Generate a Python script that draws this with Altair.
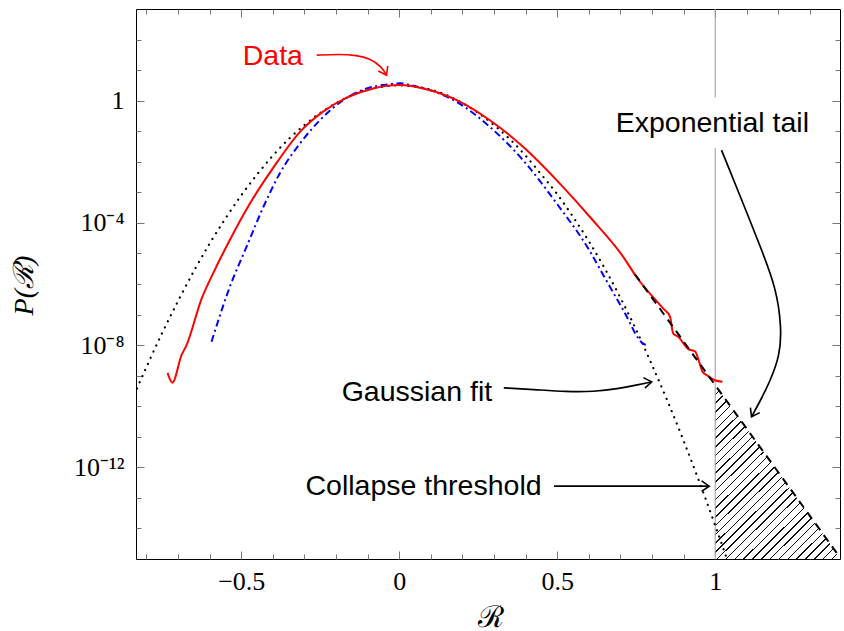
import numpy as np
import pandas as pd
import altair as alt

# ---------------- data ----------------
# measured distribution ("Data", red solid); values are log10 P
red_x = [-0.733, -0.718, -0.689, -0.673, -0.625, -0.589, -0.536, -0.472, -0.399, -0.314,
         -0.241, -0.166, -0.082, 0.002, 0.076, 0.182, 0.287, 0.392, 0.498, 0.603,
         0.709, 0.751, 0.835, 0.857, 0.867, 0.883, 0.915, 0.936, 0.946, 0.960,
         0.973, 0.999, 1.023]
red_logp = [-8.91, -9.23, -8.33, -8.00, -6.47, -5.65, -4.56, -3.36, -2.20, -1.02,
            -0.36, 0.10, 0.40, 0.51, 0.40, 0.02, -0.64, -1.51, -2.60, -3.80,
            -5.11, -5.77, -6.80, -7.07, -7.62, -7.73, -8.13, -8.20, -8.44, -8.87,
            -8.98, -9.15, -9.20]

# blue dash-dotted curve
blue_x = [-0.594, -0.536, -0.483, -0.430, -0.378, -0.314, -0.251, -0.177, -0.103, -0.029,
          0.002, 0.034, 0.182, 0.287, 0.392, 0.498, 0.603, 0.646, 0.709, 0.772, 0.783]
blue_logp = [-7.89, -6.09, -4.78, -3.48, -2.38, -1.40, -0.64, 0.02, 0.40, 0.54,
             0.57, 0.51, -0.04, -0.86, -1.95, -3.36, -4.92, -5.71, -6.85, -7.95, -8.00]

# Gaussian fit (black dotted)
gauss_x = [-0.83, -0.80, -0.75, -0.70, -0.65, -0.60, -0.55, -0.50, -0.45, -0.40,
           -0.35, -0.30, -0.25, -0.20, -0.15, -0.10, -0.05, 0.00, 0.05, 0.10,
           0.15, 0.20, 0.25, 0.30, 0.35, 0.40, 0.45, 0.50, 0.55, 0.60,
           0.65, 0.70, 0.75, 0.80, 0.85, 0.90, 0.95, 1.00, 1.035]
gauss_logp = [-9.42, -8.72, -7.60, -6.56, -5.58, -4.68, -3.86, -3.10, -2.42, -1.80,
              -1.26, -0.80, -0.40, -0.08, 0.18, 0.36, 0.46, 0.50, 0.46, 0.36,
              0.18, -0.08, -0.40, -0.80, -1.26, -1.80, -2.42, -3.06, -3.80, -4.60,
              -5.48, -6.45, -7.50, -8.65, -9.85, -11.13, -12.48, -13.90, -14.93]

# exponential tail (black dashed) and hatched region beyond the threshold
tail_x = [0.746, 1.0, 1.395]
tail_logp = [-5.68, -9.31, -14.95]
hatch_x = [1.0, 1.395]
hatch_logp = [-9.31, -14.95]
floor_logp = -15.0

# collapse threshold (grey vertical line), interrupted behind the label
thr_x = [1.0, 1.0]
thr_top_logp = [3.0, -1.55]
thr_bot_logp = [0.11, -15.0]

# annotations
ann_label = ["Data", "Exponential tail", "Gaussian fit", "Collapse threshold"]
ann_x = [-0.400, 0.991, 0.056, 0.077]
ann_logp = [1.162, -1.041, -9.823, -12.909]
ann_color = ["#ff0000", "black", "black", "black"]

arrow_data_x = [-0.261, -0.188, -0.135, -0.093, -0.055, -0.040]
arrow_data_logp = [1.489, 1.522, 1.489, 1.381, 1.106, 0.834]
arrow_tail_x = [1.020, 1.078, 1.141, 1.194, 1.210, 1.205, 1.173, 1.141, 1.115]
arrow_tail_logp = [-1.620, -3.092, -4.728, -6.145, -7.454, -8.328, -9.202, -9.856, -10.347]
arrow_gauss_x = [0.331, 0.424, 0.530, 0.614, 0.698, 0.762, 0.799]
arrow_gauss_logp = [-9.398, -9.450, -9.529, -9.529, -9.418, -9.287, -9.202]
arrow_coll_x = [0.490, 0.981]
arrow_coll_logp = [-12.615, -12.615]

tip_x = [-0.040, 1.115, 0.799, 0.981]
tip_logp = [0.834, -10.347, -9.202, -12.615]
tip_angle = [62, 118, 352, 0]
tip_color = ["#ff0000", "black", "black", "black"]

# axis ticks
x_major = [-0.5, 0, 0.5, 1]
x_minor = [-0.8, -0.7, -0.6, -0.4, -0.3, -0.2, -0.1, 0.1, 0.2, 0.3, 0.4,
           0.6, 0.7, 0.8, 0.9, 1.1, 1.2, 1.3]
y_major_exp = [0, -4, -8, -12]
y_minor_exp = [2, 1, -1, -2, -3, -5, -6, -7, -9, -10, -11, -13, -14]


# ---------------- helpers ----------------
def pw(v):
    return [10.0 ** e for e in v]


xs = alt.Scale(domain=[-0.833, 1.395], nice=False, zero=False)
ys = alt.Scale(type="log", domain=[1e-15, 1e3], nice=False)

TICK = "#777777"
SERIF = "Liberation Serif"
SANS = "Liberation Sans"

lab_e = "round(log(datum.value)/LN10)"
y_label_expr = (f"{lab_e} == 0 ? '1' : {lab_e} == -4 ? '10⁻⁴' : "
                f"{lab_e} == -8 ? '10⁻⁸' : '10⁻¹²'")


def xaxis(orient, values, size, labels):
    kw = dict(orient=orient, values=values, tickSize=size, offset=-size,
              domain=False, grid=False, tickColor=TICK, tickWidth=1, labels=labels)
    if labels:
        kw.update(format=".1~f", labelFont=SERIF, labelFontSize=26, labelPadding=9,
                  labelColor="black", titleFont=SERIF, titleFontSize=30,
                  titleFontWeight="normal", titleColor="black",
                  titleX=354, titleY=66, titleBaseline="middle", titleAlign="center")
    return alt.Axis(**kw)


def yaxis(orient, exps, size, labels):
    kw = dict(orient=orient, values=pw(exps), tickSize=size, offset=-size,
              domain=False, grid=False, tickColor=TICK, tickWidth=1, labels=labels)
    if labels:
        kw.update(labelExpr=y_label_expr, labelFont=SERIF, labelFontSize=26,
                  labelPadding=12, labelColor="black", labelBaseline="middle",
                  titleFont=SERIF, titleFontSize=28, titleFontWeight="normal",
                  titleFontStyle="italic", titleColor="black",
                  titleX=-120, titleY=276, titleAngle=270,
                  titleBaseline="middle", titleAlign="center")
    return alt.Axis(**kw)


def X(axis=None, title=None):
    if axis is None:
        return alt.X("x:Q", scale=xs, axis=None)
    if title:
        return alt.X("x:Q", scale=xs, axis=axis, title=title)
    return alt.X("x:Q", scale=xs, axis=axis, title=None)


def Y(axis=None, title=None, field="p:Q"):
    if axis is None:
        return alt.Y(field, scale=ys, axis=None)
    if title:
        return alt.Y(field, scale=ys, axis=axis, title=title)
    return alt.Y(field, scale=ys, axis=axis, title=None)


# ---------------- tables ----------------
df_red = pd.DataFrame({"x": red_x, "p": pw(red_logp)})
df_blue = pd.DataFrame({"x": blue_x, "p": pw(blue_logp)})
df_gauss = pd.DataFrame({"x": gauss_x, "p": pw(gauss_logp)})
df_tail = pd.DataFrame({"x": tail_x, "p": pw(tail_logp)})
df_hatch = pd.DataFrame({"x": hatch_x, "p": pw(hatch_logp),
                         "p2": [10.0 ** floor_logp] * len(hatch_x)})
df_thr = pd.DataFrame({"x": thr_x, "p": pw(thr_top_logp), "p2": pw(thr_bot_logp)})
df_ann = pd.DataFrame({"x": ann_x, "p": pw(ann_logp), "label": ann_label,
                       "color": ann_color})

rows = []
for aid, (xx, ll, col) in enumerate([
        (arrow_data_x, arrow_data_logp, "#ff0000"),
        (arrow_tail_x, arrow_tail_logp, "black"),
        (arrow_gauss_x, arrow_gauss_logp, "black"),
        (arrow_coll_x, arrow_coll_logp, "black")]):
    for i, (a, b) in enumerate(zip(xx, ll)):
        rows.append({"id": aid, "i": i, "x": a, "p": 10.0 ** b, "color": col})
df_arrows = pd.DataFrame(rows)
df_tips = pd.DataFrame({"x": tip_x, "p": pw(tip_logp), "angle": tip_angle,
                        "color": tip_color})

# ---------------- hatch fill (diagonal stripes through a hard-stop gradient) ----------------
n_stripes = 34
stops = []
for k in range(n_stripes):
    a = k / n_stripes
    b = (k + 0.17) / n_stripes
    c = (k + 1) / n_stripes
    stops += [alt.GradientStop(color="#111111", offset=a),
              alt.GradientStop(color="#111111", offset=b),
              alt.GradientStop(color="white", offset=b),
              alt.GradientStop(color="white", offset=c)]
hatch_fill = alt.LinearGradient(gradient="linear", stops=stops,
                                x1=0, y1=0, x2=0.809, y2=1.136)

# ---------------- layers ----------------
hatch = alt.Chart(df_hatch).mark_area(fill=hatch_fill, opacity=1).encode(
    x=X(), y=Y(), y2="p2:Q")

thr = alt.Chart(df_thr).mark_rule(color="#9a9a9a", strokeWidth=1).encode(
    x=X(), y=Y(), y2="p2:Q")

gauss = alt.Chart(df_gauss).mark_line(
    color="black", strokeWidth=2.2, strokeDash=[0.1, 6.6], strokeCap="round",
    interpolate="monotone", clip=True).encode(
    x=X(xaxis("top", x_major, 8, False)),
    y=Y(yaxis("right", y_major_exp, 8, False)))

blue = alt.Chart(df_blue).mark_line(
    color="#0000ff", strokeWidth=2, strokeDash=[7, 3.5, 2, 3.5],
    interpolate="monotone", clip=True).encode(
    x=X(xaxis("bottom", x_minor, 5, False)),
    y=Y(yaxis("left", y_minor_exp, 5, False)))

red = alt.Chart(df_red).mark_line(
    color="#ff0000", strokeWidth=2, interpolate="monotone", clip=True).encode(
    x=X(xaxis("bottom", x_major, 8, True), title="ℛ"),
    y=Y(yaxis("left", y_major_exp, 8, True), title="P(ℛ)"))

tail = alt.Chart(df_tail).mark_line(
    color="black", strokeWidth=2, strokeDash=[8, 6], clip=True).encode(
    x=X(xaxis("top", x_minor, 5, False)),
    y=Y(yaxis("right", y_minor_exp, 5, False)))

arrows = alt.Chart(df_arrows).mark_line(
    strokeWidth=1.7, interpolate="basis").encode(
    x=X(), y=Y(), detail="id:N", order="i:Q",
    color=alt.Color("color:N", scale=None))

tips = alt.Chart(df_tips).mark_point(
    shape="M-1,-0.7L0,0L-1,0.7", filled=False, size=230, strokeWidth=1.6,
    opacity=1).encode(
    x=X(), y=Y(), angle=alt.Angle("angle:Q", scale=None),
    color=alt.Color("color:N", scale=None))

texts = alt.Chart(df_ann).mark_text(
    font=SANS, fontSize=28.5, align="center", baseline="alphabetic").encode(
    x=X(), y=Y(), text="label:N", color=alt.Color("color:N", scale=None))

chart = alt.layer(
    hatch, thr, gauss, blue, red, tail, arrows, tips, texts
).resolve_axis(
    x="independent", y="independent"
).properties(
    width=704, height=550,
    autosize=alt.AutoSizeParams(type="none"),
    padding={"left": 136, "top": 9, "right": 4, "bottom": 72},
    background="white",
).configure_view(stroke="black", strokeWidth=1)

chart.save("out.html", embed_options={"renderer": "svg", "actions": False})
